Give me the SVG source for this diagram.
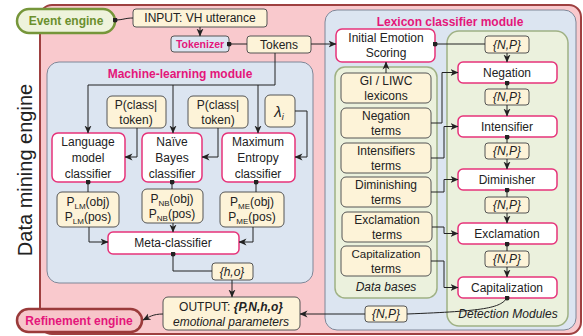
<svg xmlns="http://www.w3.org/2000/svg" width="583" height="336" viewBox="0 0 583 336">
<defs>
<style>
text{font-family:"Liberation Sans",Arial,sans-serif;font-size:12px;fill:#222;text-anchor:middle}
.title{font-weight:bold;fill:#e4167a}
.it{font-style:italic}
.yb{fill:#fdf3d8;stroke:#555;stroke-width:1}
.wb{fill:#fff;stroke:#e6337a;stroke-width:1.5}
.bm{fill:#dce5f1;stroke:#7f8798;stroke-width:1}
.gm{fill:#ebf1dd;stroke:#9fb184;stroke-width:1.5}
.c{fill:none;stroke:#222;stroke-width:1}
.a{marker-end:url(#arr)}
.ds{marker-start:url(#dot)}
.de{marker-end:url(#dot)}
.sm{font-size:11.5px}
</style>
<marker id="arr" viewBox="0 0 8 8" refX="7.5" refY="4" markerWidth="8" markerHeight="8" markerUnits="userSpaceOnUse" orient="auto">
<path d="M0,0.5 L8,4 L0,7.5 L2.2,4 z" fill="#222"/>
</marker>
<marker id="dot" viewBox="0 0 6 6" refX="3" refY="3" markerWidth="5" markerHeight="5" markerUnits="userSpaceOnUse">
<circle cx="3" cy="3" r="3" fill="#222"/>
</marker>
</defs>

<g id="data-mining-engine">
<rect x="40" y="5" width="541" height="329" rx="12" fill="#f9c9cd" stroke="#9e4040" stroke-width="2"/>
<text x="0" y="0" transform="translate(32,170) rotate(-90)" style="font-size:20px">Data mining engine</text>
</g>

<g id="ml-module">
<rect class="bm" x="47" y="62" width="266" height="221" rx="12"/>
<text class="title" x="180" y="78">Machine-learning module</text>
</g>

<g id="lexicon-module">
<rect class="bm" x="325" y="10" width="251" height="320" rx="12"/>
<text class="title" x="450" y="26">Lexicon classifier module</text>
</g>

<g id="data-bases">
<rect class="gm" x="335" y="67" width="102" height="231" rx="10"/>
<text class="it" x="386" y="291">Data bases</text>
</g>

<g id="detection-modules">
<rect class="gm" x="447" y="31" width="121" height="295" rx="12"/>
<text class="it" x="508" y="318">Detection Modules</text>
</g>

<g id="event-engine">
<rect x="17" y="9" width="98" height="24" rx="12" fill="#eef3dc" stroke="#76963a" stroke-width="2.5"/>
<text x="66" y="25" style="font-weight:bold;fill:#6b8f2e;font-size:12px">Event engine</text>
</g>

<g id="input">
<rect class="yb" x="133" y="9" width="134" height="18" rx="3"/>
<text x="200" y="22">INPUT: VH utterance</text>
</g>

<g id="tokenizer">
<rect x="171" y="36" width="58" height="16" rx="3" fill="#dce5f1" stroke="#555"/>
<text class="title" x="200" y="48" style="font-size:10.5px">Tokenizer</text>
</g>

<g id="tokens">
<rect class="yb" x="247" y="36" width="64" height="17" rx="3"/>
<text x="279" y="49">Tokens</text>
</g>

<g id="p-class-token-1">
<rect class="yb" x="107" y="96" width="59" height="32" rx="5"/>
<text x="136" y="109">P(class|</text>
<text x="136" y="124">token)</text>
</g>

<g id="p-class-token-2">
<rect class="yb" x="188" y="96" width="60" height="32" rx="5"/>
<text x="218" y="109">P(class|</text>
<text x="218" y="124">token)</text>
</g>

<g id="lambda">
<rect class="yb" x="265" y="95" width="30" height="32" rx="5"/>
<text x="279" y="117" class="it" style="font-size:15px">λ<tspan style="font-size:9px" dy="3">i</tspan></text>
</g>

<g id="lm-classifier">
<rect class="wb" x="52" y="133" width="73" height="49" rx="6"/>
<text x="88" y="146">Language</text>
<text x="88" y="162">model</text>
<text x="88" y="178">classifier</text>
</g>

<g id="nb-classifier">
<rect class="wb" x="142" y="133" width="60" height="49" rx="6"/>
<text x="172" y="146">Naïve</text>
<text x="172" y="162">Bayes</text>
<text x="172" y="178">classifier</text>
</g>

<g id="me-classifier">
<rect class="wb" x="222" y="133" width="73" height="49" rx="6"/>
<text x="258" y="146">Maximum</text>
<text x="258" y="162">Entropy</text>
<text x="258" y="178">classifier</text>
</g>

<g id="p-lm">
<rect class="yb" x="57" y="192" width="62" height="35" rx="5"/>
<text x="88" y="206">P<tspan style="font-size:8px" dy="3">LM</tspan><tspan dy="-3">(obj)</tspan></text>
<text x="88" y="221">P<tspan style="font-size:8px" dy="3">LM</tspan><tspan dy="-3">(pos)</tspan></text>
</g>

<g id="p-nb">
<rect class="yb" x="142" y="189" width="61" height="34" rx="5"/>
<text x="172" y="203">P<tspan style="font-size:8px" dy="3">NB</tspan><tspan dy="-3">(obj)</tspan></text>
<text x="172" y="218">P<tspan style="font-size:8px" dy="3">NB</tspan><tspan dy="-3">(pos)</tspan></text>
</g>

<g id="p-me">
<rect class="yb" x="220" y="192" width="64" height="35" rx="5"/>
<text x="252" y="206">P<tspan style="font-size:8px" dy="3">ME</tspan><tspan dy="-3">(obj)</tspan></text>
<text x="252" y="221">P<tspan style="font-size:8px" dy="3">ME</tspan><tspan dy="-3">(pos)</tspan></text>
</g>

<g id="meta-classifier">
<rect class="wb" x="108" y="232" width="131" height="22" rx="5"/>
<text x="173" y="247">Meta-classifier</text>
</g>

<g id="ho">
<rect class="yb" x="212" y="263" width="41" height="17" rx="3"/>
<text class="it" x="232" y="276">{h,o}</text>
</g>

<g id="output">
<rect class="yb" x="163" y="297" width="137" height="33" rx="5"/>
<text x="231" y="311">OUTPUT: <tspan style="font-weight:bold;font-style:italic">{P,N,h,o}</tspan></text>
<text class="it" x="231" y="326">emotional parameters</text>
</g>

<g id="refinement-engine">
<rect x="17" y="309" width="125" height="23" rx="11.5" fill="#f7c6ca" stroke="#9a3a3a" stroke-width="2.5"/>
<text class="title" x="79" y="325">Refinement engine</text>
</g>

<g id="initial-emotion-scoring">
<rect class="wb" x="336" y="29" width="99" height="33" rx="6"/>
<text x="386" y="42">Initial Emotion</text>
<text x="386" y="57">Scoring</text>
</g>

<g id="gi-liwc">
<rect class="yb" x="341" y="73" width="90" height="30" rx="5"/>
<text x="386" y="85">GI / LIWC</text>
<text x="386" y="100">lexicons</text>
</g>
<g id="negation-terms">
<rect class="yb" x="341" y="108" width="90" height="30" rx="5"/>
<text x="386" y="120">Negation</text>
<text x="386" y="135">terms</text>
</g>
<g id="intensifiers-terms">
<rect class="yb" x="341" y="143" width="90" height="30" rx="5"/>
<text x="386" y="155">Intensifiers</text>
<text x="386" y="170">terms</text>
</g>
<g id="diminishing-terms">
<rect class="yb" x="341" y="177" width="90" height="30" rx="5"/>
<text x="386" y="189">Diminishing</text>
<text x="386" y="204">terms</text>
</g>
<g id="exclamation-terms">
<rect class="yb" x="342" y="212" width="90" height="30" rx="5"/>
<text x="387" y="224">Exclamation</text>
<text x="387" y="239">terms</text>
</g>
<g id="capitalization-terms">
<rect class="yb" x="341" y="246" width="90" height="30" rx="5"/>
<text class="sm" x="386" y="258">Capitalization</text>
<text x="386" y="273">terms</text>
</g>

<g id="np0"><rect class="yb" x="485" y="36" width="44" height="17" rx="3"/><text class="it" x="507" y="49">{N,P}</text></g>
<g id="negation"><rect class="wb" x="458" y="62" width="99" height="21" rx="5"/><text x="507" y="77">Negation</text></g>
<g id="np1"><rect class="yb" x="485" y="89" width="44" height="16" rx="3"/><text class="it" x="507" y="101">{N,P}</text></g>
<g id="intensifier"><rect class="wb" x="458" y="116" width="99" height="21" rx="5"/><text x="507" y="131">Intensifier</text></g>
<g id="np2"><rect class="yb" x="485" y="143" width="44" height="16" rx="3"/><text class="it" x="507" y="155">{N,P}</text></g>
<g id="diminisher"><rect class="wb" x="458" y="169" width="99" height="21" rx="5"/><text x="507" y="184">Diminisher</text></g>
<g id="np3"><rect class="yb" x="485" y="197" width="44" height="16" rx="3"/><text class="it" x="507" y="209">{N,P}</text></g>
<g id="exclamation"><rect class="wb" x="458" y="223" width="99" height="21" rx="5"/><text x="507" y="238">Exclamation</text></g>
<g id="np4"><rect class="yb" x="485" y="251" width="44" height="16" rx="3"/><text class="it" x="507" y="263">{N,P}</text></g>
<g id="capitalization"><rect class="wb" x="458" y="277" width="99" height="21" rx="5"/><text x="507" y="292">Capitalization</text></g>
<g id="np-out"><rect class="yb" x="365" y="306" width="42" height="16" rx="3"/><text class="it" x="386" y="318">{N,P}</text></g>

<g id="connectors">
<path class="c ds" d="M115,20 C123,20 125,18 133,18"/>
<path class="c a" d="M200,27 V36"/>
<path class="c de" d="M247,44 H229"/>
<path class="c a" d="M311,44 H336"/>
<path class="c" d="M275,53 V85 H88"/>
<path class="c a" d="M88,85 V133"/>
<path class="c a" d="M173,85 V133"/>
<path class="c a" d="M258,85 V133"/>
<path class="c a" d="M137,128 V157 H125"/>
<path class="c a" d="M218,128 V157 H202"/>
<path class="c a" d="M295,111 H307 V157 H295"/>
<path class="c ds" d="M88,182 V192"/>
<path class="c ds" d="M172,182 V189"/>
<path class="c ds" d="M256,182 V192"/>
<path class="c a" d="M89,227 V242 H108"/>
<path class="c a" d="M173,223 V232"/>
<path class="c a" d="M253,227 V242 H239"/>
<path class="c ds" d="M173,254 V271 H212"/>
<path class="c a" d="M232,280 V297"/>
<path class="c a" d="M163,314 C153,314 149,317 143,320"/>
<path class="c a" d="M365,314 H300"/>
<path class="c ds" d="M507,298 C500,308 485,311 407,314"/>
<path class="c a" d="M386,73 V62"/>
<path class="c ds" d="M435,44 H485"/>
<path class="c a" d="M507,53 V62"/>
<path class="c ds" d="M507,83 V89"/>
<path class="c a" d="M507,105 V116"/>
<path class="c ds" d="M507,137 V143"/>
<path class="c a" d="M507,159 V169"/>
<path class="c ds" d="M507,190 V197"/>
<path class="c a" d="M507,213 V223"/>
<path class="c ds" d="M507,244 V251"/>
<path class="c a" d="M507,267 V277"/>
<path class="c a" d="M431,123 H442 V72.5 H458"/>
<path class="c a" d="M431,158 H444 V126.5 H458"/>
<path class="c a" d="M431,192 H444 V179.5 H458"/>
<path class="c a" d="M432,227 H444 V233.5 H458"/>
<path class="c a" d="M431,261 H444 V287.5 H458"/>
</g>
</svg>
